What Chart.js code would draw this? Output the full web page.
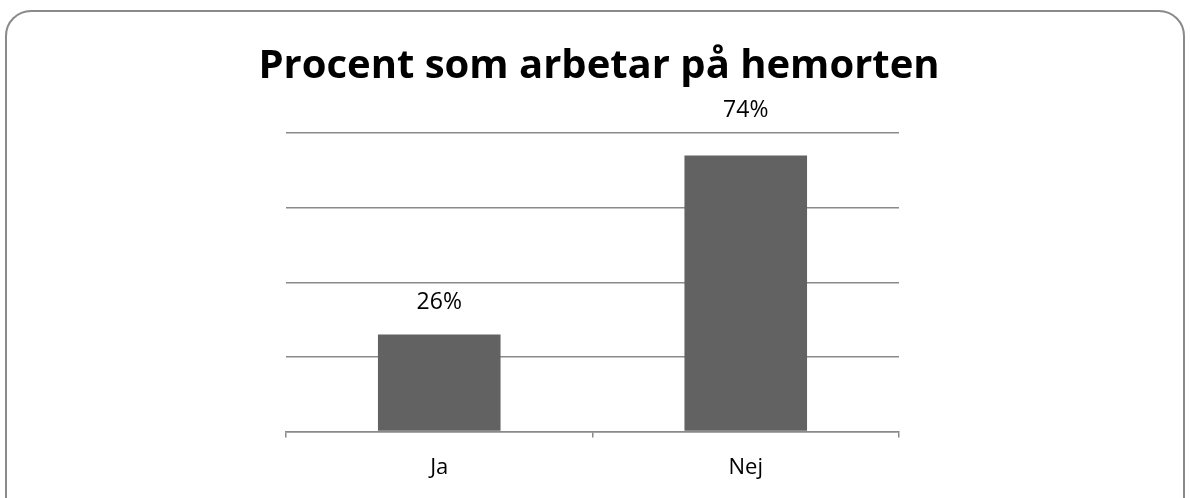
<!DOCTYPE html>
<html>
<head>
<meta charset="utf-8">
<script src="https://cdn.jsdelivr.net/npm/chart.js@4/dist/chart.umd.min.js"></script>
<style>
  html, body { margin:0; padding:0; background:#fff; }
  #wrap { position:relative; width:1190px; height:498px; overflow:hidden; }
  #frame { position:absolute; left:5px; top:10px; width:1180px; height:520px;
           border:2px solid #8a8a8a; border-radius:26px; box-sizing:border-box; }
  #c { position:absolute; left:0; top:0; }
</style>
</head>
<body>
<div id="wrap">
  <div id="frame"></div>
  <canvas id="c" width="1190" height="498"></canvas>
</div>
<script>
const TITLE = "Procent som arbetar på hemorten";
const categories = ["Ja", "Nej"];
const values = [26, 74];
const valueLabels = ["26%", "74%"];
const yTicks = [0, 20, 40, 60, 80];

const FONT = "'Open Sans', 'Noto Sans', sans-serif";

const labelPlugin = {
  id: 'barLabels',
  afterDatasetsDraw(chart, args, opts) {
    const ctx = chart.ctx;
    const meta = chart.getDatasetMeta(0);
    ctx.save();
    ctx.fillStyle = '#000';
    ctx.font = opts.size + "px " + FONT;
    ctx.textAlign = 'center';
    ctx.textBaseline = 'middle';
    meta.data.forEach((bar, i) => {
      ctx.fillText(valueLabels[i], bar.x, bar.y - opts.offsets[i]);
    });
    ctx.restore();
  }
};

const titlePlugin = {
  id: 'bigTitle',
  afterDraw(chart, args, opts) {
    const ctx = chart.ctx;
    ctx.save();
    ctx.fillStyle = '#000';
    ctx.font = "bold " + opts.size + "px " + FONT;
    ctx.textAlign = 'center';
    ctx.textBaseline = 'middle';
    ctx.fillText(opts.text, opts.x, opts.y);
    ctx.restore();
  }
};

new Chart(document.getElementById('c'), {
  type: 'bar',
  data: {
    labels: categories,
    datasets: [{
      data: values,
      backgroundColor: '#626262',
      borderWidth: 0,
      barPercentage: 0.4,
      categoryPercentage: 1.0
    }]
  },
  plugins: [labelPlugin, titlePlugin],
  options: {
    responsive: false,
    animation: false,
    devicePixelRatio: 1,
    layout: { padding: { left: 286, right: 291, top: 133, bottom: 0 } },
    plugins: {
      legend: { display: false },
      tooltip: { enabled: false },
      title: { display: false },
      bigTitle: { text: TITLE, size: 40, x: 599, y: 67 },
      barLabels: { size: 23, offsets: [32, 45] }
    },
    scales: {
      x: {
        grid: { display: true, drawOnChartArea: false, drawTicks: true, tickLength: 6, color: '#8a8a8a', lineWidth: 1.5, offset: true },
        border: { display: true, color: '#8a8a8a', width: 1.5 },
        ticks: { color: '#000', font: { family: FONT, size: 22 }, padding: 17 }
      },
      y: {
        min: 0, max: 80,
        afterBuildTicks(scale) { scale.ticks = yTicks.map(v => ({ value: v })); },
        grid: { color: '#8a8a8a', lineWidth: 1.5, drawTicks: false },
        border: { display: false },
        ticks: { display: false }
      }
    }
  }
});
</script>
</body>
</html>
